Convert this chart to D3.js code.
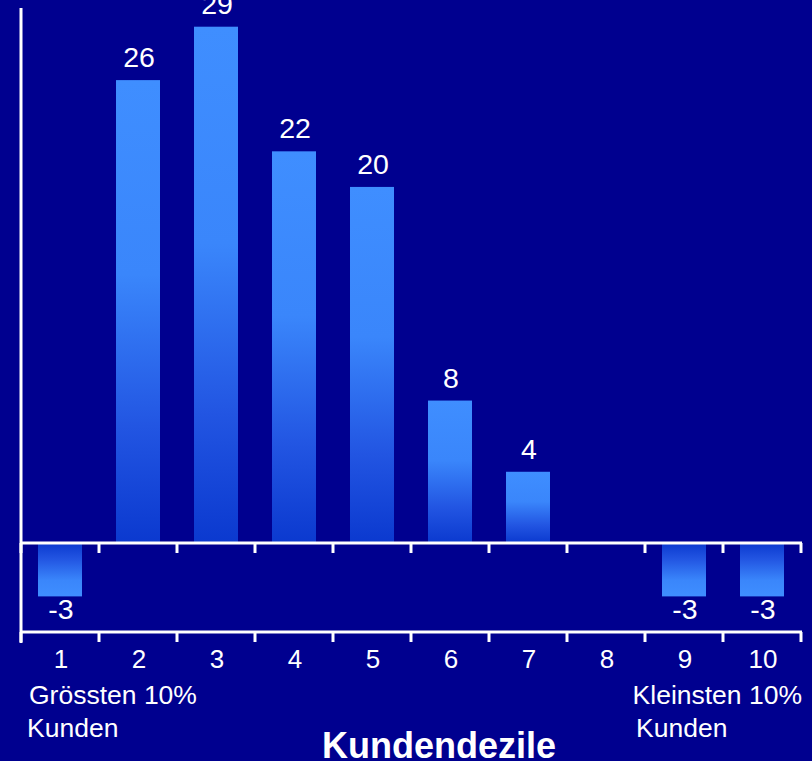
<!DOCTYPE html>
<html>
<head>
<meta charset="utf-8">
<script src="https://cdn.jsdelivr.net/npm/d3@7"></script>
<style>
  html, body { margin: 0; padding: 0; background: #00008f; }
  svg { display: block; }
  text { font-family: "Liberation Sans", Arial, sans-serif; fill: #fff; }
</style>
</head>
<body>
<svg id="chart" width="812" height="761"></svg>
<script>
// Kundendezile and their values
const deciles = ["1", "2", "3", "4", "5", "6", "7", "8", "9", "10"];
const values  = [-3, 26, 29, 22, 20, 8, 4, null, -3, -3];
const leftNote  = ["Grössten 10%", "Kunden"];
const rightNote = ["Kleinsten 10%", "Kunden"];
const axisTitle = "Kundendezile";

const W = 812, H = 761;
const svg = d3.select("#chart");

svg.append("rect").attr("width", W).attr("height", H).attr("fill", "#00008f");

const x = d3.scaleBand().domain(deciles).range([21, 801])
  .paddingInner(0.436).paddingOuter(0.218);
const y = d3.scaleLinear().domain([-5, 30.5]).range([632, 0]);
const step = x.step();

// Gradients: dark at the zero line, light at the bar end
const defs = svg.append("defs");
const up = defs.append("linearGradient").attr("id", "gUp")
  .attr("x1", 0).attr("y1", 0).attr("x2", 0).attr("y2", 1);
[[0, "#3f8eff"], [0.42, "#3a86fb"], [0.75, "#2255e2"], [1, "#0b39cf"]]
  .forEach(([o, c]) => up.append("stop").attr("offset", o).attr("stop-color", c));
const down = defs.append("linearGradient").attr("id", "gDown")
  .attr("x1", 0).attr("y1", 0).attr("x2", 0).attr("y2", 1);
[[0, "#0b39cf"], [0.3, "#2255e2"], [0.7, "#3a86fb"], [1, "#3f8eff"]]
  .forEach(([o, c]) => down.append("stop").attr("offset", o).attr("stop-color", c));

const data = deciles.map((d, i) => ({ d, v: values[i] })).filter(e => e.v !== null);

svg.append("g").selectAll("rect").data(data).join("rect")
  .attr("x", e => x(e.d))
  .attr("width", x.bandwidth())
  .attr("y", e => e.v >= 0 ? y(e.v) : y(0))
  .attr("height", e => Math.abs(y(e.v) - y(0)))
  .attr("fill", e => e.v >= 0 ? "url(#gUp)" : "url(#gDown)");

// Value labels
svg.append("g").selectAll("text").data(data).join("text")
  .attr("x", e => x(e.d) + x.bandwidth() / 2 + 1)
  .attr("y", e => e.v >= 0 ? y(e.v) - 13 : y(e.v) + 23)
  .attr("text-anchor", "middle")
  .attr("font-size", 28.5)
  .text(e => e.v);

// Axes
const axisG = svg.append("g").attr("stroke", "#fff").attr("stroke-width", 3).attr("fill", "none");
axisG.append("line").attr("x1", 21).attr("x2", 21).attr("y1", 8).attr("y2", 643);
const bounds = deciles.map(d => x(d) - x.paddingInner() * step / 2).concat([801]);
[y(0), y(-5)].forEach(yy => {
  axisG.append("line").attr("x1", 20).attr("x2", 802).attr("y1", yy).attr("y2", yy);
  bounds.forEach(bx => {
    axisG.append("line").attr("x1", bx).attr("x2", bx).attr("y1", yy).attr("y2", yy + 10);
  });
});

// Tick labels
svg.append("g").selectAll("text").data(deciles).join("text")
  .attr("x", d => x(d) + x.bandwidth() / 2 + 1)
  .attr("y", 668)
  .attr("text-anchor", "middle")
  .attr("font-size", 26)
  .text(d => d);

// Notes under the first and last decile
const noteG = svg.append("g").attr("font-size", 26.5);
noteG.append("text").attr("x", 29).attr("y", 704).text(leftNote[0]);
noteG.append("text").attr("x", 27).attr("y", 737).text(leftNote[1]);
noteG.append("text").attr("x", 802).attr("y", 704).attr("text-anchor", "end").text(rightNote[0]);
noteG.append("text").attr("x", 636).attr("y", 737).text(rightNote[1]);

svg.append("text").attr("x", 439).attr("y", 758)
  .attr("text-anchor", "middle").attr("font-size", 36).attr("font-weight", "bold")
  .text(axisTitle);
</script>
</body>
</html>
